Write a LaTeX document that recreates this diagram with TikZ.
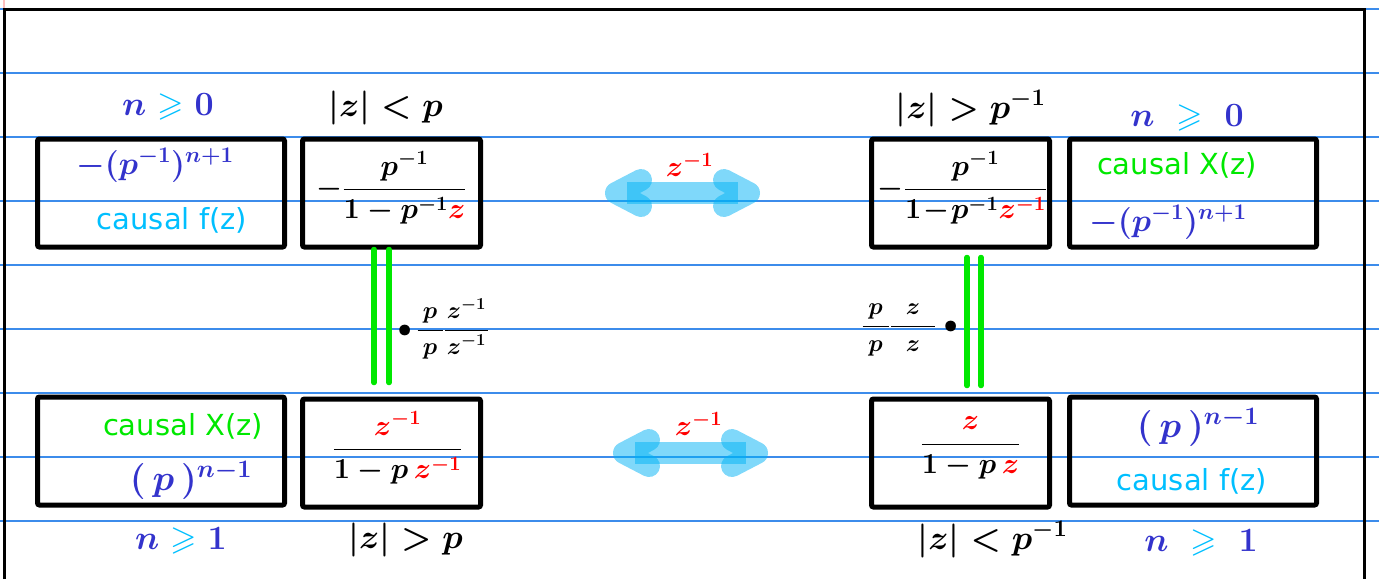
\RequirePackage{fix-cm}
\documentclass[tikz,border=0pt]{standalone}
\usepackage{amsmath,amssymb}
\usepackage{fontspec}
\newfontfamily\causalfont{DejaVu Sans}
\usepackage{tikz}
\usetikzlibrary{positioning,arrows.meta,calc}

\definecolor{inkblue}{RGB}{51,51,204}
\definecolor{skyblue}{RGB}{0,191,255}
\definecolor{inkgreen}{RGB}{0,232,0}
\definecolor{inkred}{RGB}{255,0,0}
\definecolor{ruleblue}{RGB}{60,140,235}
\definecolor{shiftblue}{RGB}{0,178,245}

\newcommand{\geqc}{\mathrel{\color{skyblue}\geqslant}}
\newcommand{\padded}[2]{\hbox to #1{\hss$#2$\hss}}

\begin{document}
\begin{tikzpicture}[x=1pt,y=-1pt,
			widebox/.style={
				draw,
				line width=5pt,
				rounded corners=2pt,
				minimum width=247pt,
				minimum height=108pt,
				inner sep=0pt
			},
			narrowbox/.style={widebox,minimum width=178pt},
			cond/.style={font=\boldmath\fontsize{34}{38}\selectfont,inner sep=0pt},
			boxmath/.style={font=\boldmath\fontsize{29}{34}\selectfont,inner sep=0pt},
			power/.style={font=\boldmath\fontsize{32}{36}\selectfont,inner sep=0pt},
			causal/.style={font=\causalfont\fontsize{29}{33}\selectfont,inner sep=0pt},
			factor/.style={font=\boldmath\fontsize{24}{28}\selectfont,inner sep=0pt},
			link/.style={draw=inkgreen,line width=5.5pt,line cap=round},
			shiftarrow/.style={
				draw=shiftblue,
				opacity=0.5,
				line width=22pt,
				{Straight Barb[round,length=25pt,width=26pt]}-{Straight Barb[round,length=25pt,width=26pt]}
			}]
			
			\useasboundingbox (0,0) rectangle (1379,579);
			
			\foreach \y in {9,73,...,521}
				\draw[ruleblue,line width=1.3pt] (0,\y) -- (1379,\y);
			
			\draw[pink,line width=1.5pt] (4,0) -- (4,9);
			
			\draw[line width=3pt] (4,579) -- (4,9) -- (1364,9) -- (1364,579);
			
			\node(A)[widebox] at (161,193){};
			
			\node(B)[narrowbox,right=13pt of A]{};
			
			\node(C)[narrowbox,right=386pt of B]{};
			
			\node(D)[widebox,right=15pt of C]{};
			
			\node(E)[widebox,below=145pt of A]{};
			
			\node(F)[narrowbox,below=147pt of B]{};
			
			\node(G)[narrowbox,below=147pt of C]{};
			
			\node(H)[widebox,below=145pt of D]{};
			
			\node(nA)[cond,inkblue] at ([xshift=7pt,yshift=30pt]A.north){$n\geqc 0$};
			
			\node(rB)[cond] at ([xshift=-6pt,yshift=29pt]B.north){$|z|<p$};
			
			\node(rC)[cond] at ([xshift=10pt,yshift=28pt]C.north){$|z|>p^{-1}$};
			
			\node(nD)[cond,inkblue] at ([xshift=-6pt,yshift=19pt]D.north){$n\;\geqc\;0$};
			
			\node(nE)[cond,inkblue] at ([xshift=20pt,yshift=-33pt]E.south){$n\geqc 1$};
			
			\node(rF)[cond] at ([xshift=14pt,yshift=-30pt]F.south){$|z|>p$};
			
			\node(rG)[cond] at ([xshift=32pt,yshift=-30pt]G.south){$|z|<p^{-1}$};
			
			\node(nH)[cond,inkblue] at ([xshift=8pt,yshift=-35pt]H.south){$n\;\geqc\;1$};
			
			\node(sA)[power,inkblue] at ([xshift=-6pt,yshift=28pt]A.center){$-(p^{-1})^{n+1}$};
			
			\node(cA)[causal,skyblue] at ([xshift=11pt,yshift=-27pt]A.center){causal f(z)};
			
			\node(fB)[boxmath] at ([yshift=5pt]B.center){$\displaystyle -\frac{p^{-1}}{1-p^{-1}{\color{inkred}z}}$};
			
			\node(fC)[boxmath] at ([xshift=2pt,yshift=5pt]C.center){$\displaystyle -\frac{p^{-1}}{1\!-\!p^{-1}{\color{inkred}z^{-1}}}$};
			
			\node(cD)[causal,inkgreen] at ([xshift=-16pt,yshift=28pt]D.center){causal X(z)};
			
			\node(sD)[power,inkblue] at ([xshift=-25pt,yshift=-29pt]D.center){$-(p^{-1})^{n+1}$};
			
			\node(cE)[causal,inkgreen] at ([xshift=22pt,yshift=25pt]E.center){causal X(z)};
			
			\node(sE)[power,font=\boldmath\fontsize{36}{40}\selectfont,inkblue] at ([xshift=30pt,yshift=-29pt]E.center){$(\,p\,)^{n-1}$};
			
			\node(fF)[boxmath] at ([xshift=6pt,yshift=5pt]F.center){$\displaystyle\frac{\color{inkred}z^{-1}}{1-p\,{\color{inkred}z^{-1}}}$};
			
			\node(fG)[boxmath] at ([xshift=10pt,yshift=5pt]G.center){$\displaystyle\frac{\color{inkred}z}{1-p\,{\color{inkred}z}}$};
			
			\node(sH)[power,font=\boldmath\fontsize{36}{40}\selectfont,inkblue] at ([xshift=5pt,yshift=24pt]H.center){$(\,p\,)^{n-1}$};
			
			\node(cH)[causal,skyblue] at ([xshift=-1pt,yshift=-30pt]H.center){causal f(z)};
			
			\draw[link,shorten >=14pt]([xshift=-17.5pt]B.south)--([xshift=-17.5pt]F.north);
			
			\draw[link,shorten >=14pt]([xshift=-2.5pt]B.south)--([xshift=-2.5pt]F.north);
			
			\draw[link,shorten <=8pt,shorten >=11pt]([xshift=6.5pt]C.south)--([xshift=6.5pt]G.north);
			
			\draw[link,shorten <=8pt,shorten >=11pt]([xshift=20.5pt]C.south)--([xshift=20.5pt]G.north);
			
			\node(kB)[factor] at ($(B.south)!0.5!(F.north)+(52,6)$){$\bullet\,\dfrac{\padded{25pt}{p}}{\padded{25pt}{p}}\dfrac{\padded{43pt}{z^{-1}}}{\padded{43pt}{z^{-1}}}$};
			
			\node(kC)[factor] at ($(C.south)!0.5!(G.north)+(-51,7)$){$\dfrac{\padded{26pt}{p}}{\padded{26pt}{p}}\dfrac{\padded{44pt}{z}}{\padded{44pt}{z}}\;\bullet$};
			
			\coordinate[right=122pt of B](tl);
			
			\coordinate[left=109pt of C](tr);
			
			\coordinate[right=130pt of F](bl);
			
			\coordinate[left=101pt of G](br);
			
			\draw[shiftarrow](tl)--(tr);
			
			\draw[shiftarrow](bl)--(br);
			
			\node(zt)[boxmath,inkred] at ($(tl)!0.5!(tr)+(7,-28)$){$z^{-1}$};
			
			\node(zb)[boxmath,inkred] at ($(bl)!0.5!(br)+(8,-29)$){$z^{-1}$};
			
		\end{tikzpicture}
\end{document}
